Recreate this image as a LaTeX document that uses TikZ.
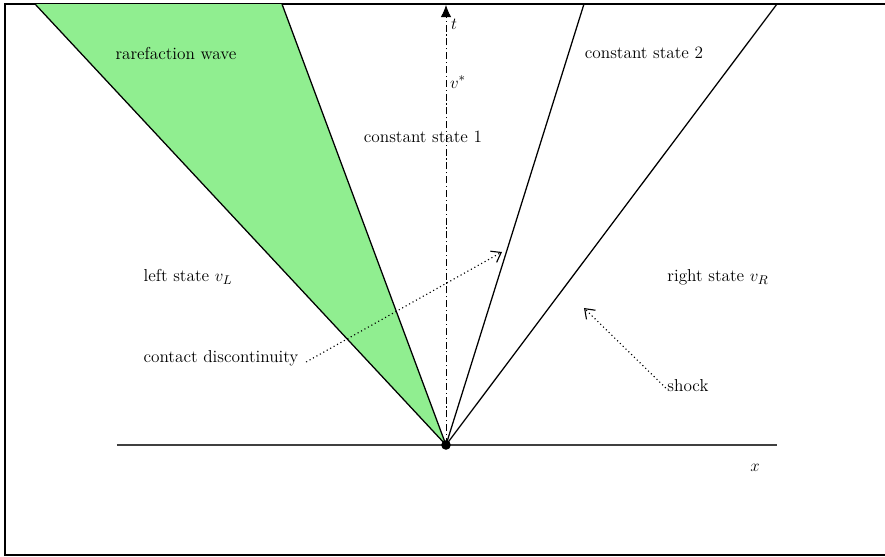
\documentclass[tikz,border=0pt]{standalone}
\usepackage{amsmath, amssymb}
\usepackage{xcolor}
\usetikzlibrary{arrows.meta}

\definecolor{rarefgreen}{RGB}{144,238,144}

\tikzset{
  label text/.style={font=\fontsize{12.3}{14}\selectfont, inner sep=1pt},
  wave line/.style={line width=0.9pt},
  pointer/.style={dotted, line width=0.8pt, -{Straight Barb[length=2.2mm,width=3.2mm]}}
}

\begin{document}
\begin{tikzpicture}
  \useasboundingbox (-11.15,-2.775) rectangle (10.975,11.125);

  % Frame (left, top and bottom edges)
  \draw[line width=1pt] (10.975,11.025) -- (-11.025,11.025) -- (-11.025,-2.75) -- (10.975,-2.75);

  % Corner points of the waves
  \coordinate (O) at (0,0);
  \coordinate (rarL) at (-10.275,11.025);
  \coordinate (rarR) at (-4.1,11.025);
  \coordinate (cont) at (3.45,11.025);
  \coordinate (shk) at (8.275,11.025);

  % Rarefaction fan
  \fill[rarefgreen] (O) -- (rarL) -- (rarR) -- cycle;
  \draw[wave line] (rarL) -- (O) -- (rarR);

  % Contact discontinuity and shock
  \draw[wave line] (O) -- (cont);
  \draw[wave line] (O) -- (shk);

  % Axes
  \coordinate (xL) at (-8.225,0);
  \coordinate (xR) at (8.275,0);
  \coordinate (ttop) at (0,11.0);
  \draw[line width=0.8pt, black!75] (xL) -- (xR);
  \draw[dash pattern=on 5pt off 2pt on 0.8pt off 2pt, line width=0.6pt, -{Latex[length=3mm,width=2.6mm]}] (O) -- (ttop);
  \fill (O) circle (0.12);

  % Labels
  \node[label text] (rw) at (-6.75,9.8) {rarefaction wave};
  \node[label text] (cs1) at (-0.575,7.7) {constant state 1};
  \node[label text] (cs2) at (4.95,9.8) {constant state 2};
  \node[label text] (vl) at (-6.45,4.2) {left state $v_L$};
  \node[label text] (vr) at (6.8,4.2) {right state $v_R$};
  \node[label text] (cd) at (-5.625,2.175) {contact discontinuity};
  \node[label text] (sh) at (6.05,1.475) {shock};
  \node[label text] (tl) at (0.2,10.525) {$t$};
  \node[label text] (vs) at (0.3,9.075) {$v^*$};
  \node[label text] (xl) at (7.725,-0.575) {$x$};

  % Pointers
  \coordinate (cdtip) at (1.4,4.825);
  \coordinate (shtip) at (3.45,3.425);
  \draw[pointer] (cd.east) ++(0.15,-0.1) -- (cdtip);
  \draw[pointer] (sh.west) ++(0,-0.05) -- (shtip);
\end{tikzpicture}
\end{document}
